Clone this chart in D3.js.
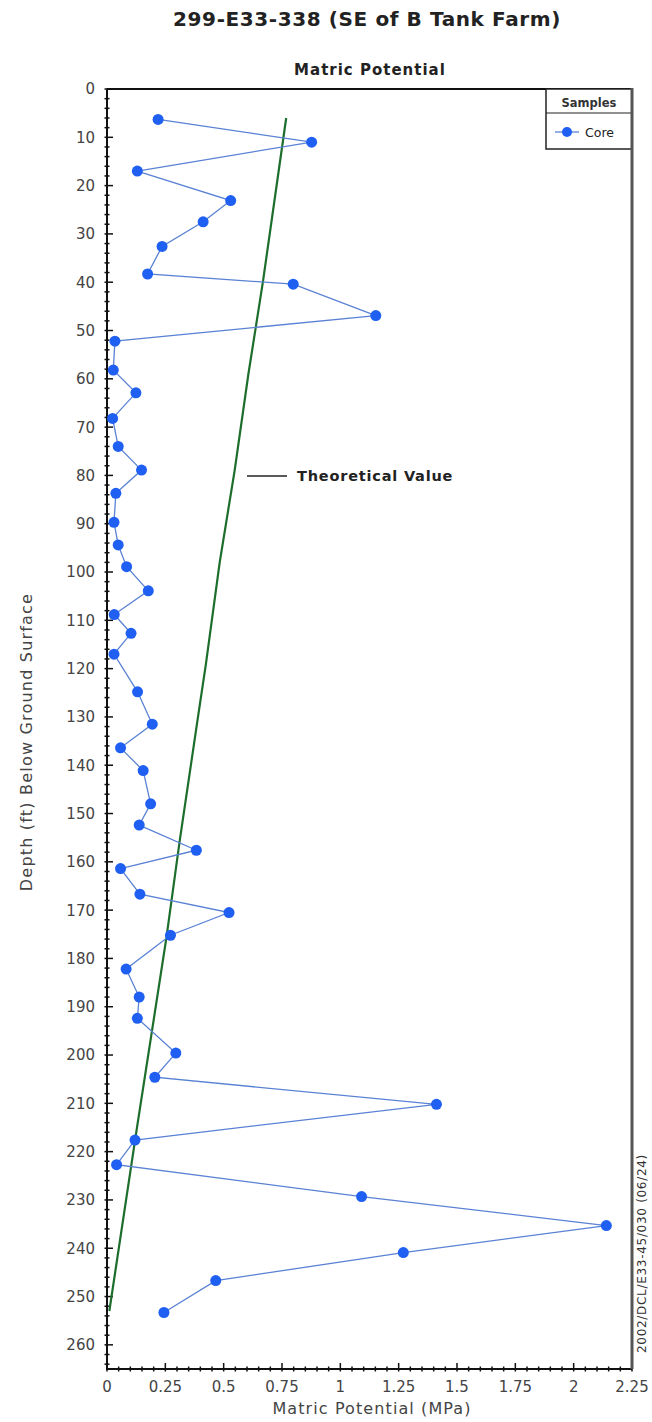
<!DOCTYPE html>
<html>
<head>
<meta charset="utf-8">
<script src="https://cdn.jsdelivr.net/npm/d3@7"></script>
<style>
  html, body { margin: 0; padding: 0; background: #fff; }
  svg { display: block; }
  text { font-family: "DejaVu Sans", Lato, sans-serif; }
</style>
</head>
<body>
<svg id="chart" width="652" height="1422"></svg>
<script>
// ---- data ----
const coreDepth = [6.3, 11.0, 17.0, 23.1, 27.5, 32.6, 38.3, 40.4, 46.9, 52.2,
  58.2, 62.9, 68.2, 74.0, 78.9, 83.7, 89.7, 94.4, 98.9, 103.9,
  108.8, 112.7, 117.0, 124.8, 131.5, 136.4, 141.1, 148.0, 152.4, 157.6,
  161.4, 166.7, 170.5, 175.2, 182.2, 188.0, 192.4, 199.6, 204.6, 210.2,
  217.6, 222.7, 229.3, 235.3, 240.9, 246.7, 253.3];
const coreMPa = [0.219, 0.877, 0.130, 0.530, 0.412, 0.236, 0.174, 0.798, 1.152, 0.034,
  0.027, 0.124, 0.024, 0.048, 0.148, 0.038, 0.030, 0.048, 0.084, 0.177,
  0.031, 0.103, 0.030, 0.131, 0.194, 0.058, 0.155, 0.187, 0.138, 0.383,
  0.058, 0.141, 0.523, 0.272, 0.082, 0.138, 0.130, 0.295, 0.205, 1.412,
  0.120, 0.041, 1.091, 2.140, 1.270, 0.466, 0.244];
const theoDepth = [6, 40, 59, 79, 98, 119, 130, 155.5, 175.6, 215.5, 253];
const theoMPa = [0.768, 0.668, 0.606, 0.547, 0.483, 0.424, 0.39, 0.312, 0.255, 0.127, 0.01];
const yTickLabels = ["0","10","20","30","40","50","60","70","80","90","100","110","120","130","140","150","160","170","180","190","200","210","220","230","240","250","260"];
const xTickLabels = ["0","0.25","0.5","0.75","1","1.25","1.5","1.75","2","2.25"];
const titleText = "299-E33-338 (SE of B Tank Farm)";
const subtitleText = "Matric Potential";
const xTitle = "Matric Potential (MPa)";
const yTitle = "Depth (ft) Below Ground Surface";
const legendTitle = "Samples";
const seriesName = "Core";
const theoLabel = "Theoretical Value";
const docId = "2002/DCL/E33-45/030 (06/24)";

// ---- layout ----
const svg = d3.select("#chart");
const L = 107, R = 632, T = 89, B = 1369;
const x = d3.scaleLinear().domain([0, 2.25]).range([L, R]);
const y = d3.scaleLinear().domain([0, 265]).range([T, B]);

// titles
svg.append("text").attr("x", 367).attr("y", 26).attr("text-anchor", "middle")
  .attr("font-size", 20).attr("font-weight", "bold").attr("letter-spacing", 0.6)
  .attr("fill", "#222").text(titleText);
svg.append("text").attr("x", 370).attr("y", 75).attr("text-anchor", "middle")
  .attr("font-size", 15).attr("font-weight", "bold").attr("letter-spacing", 1)
  .attr("fill", "#222").text(subtitleText);

// frame
svg.append("line").attr("x1", L).attr("x2", R).attr("y1", T).attr("y2", T)
  .attr("stroke", "#111").attr("stroke-width", 2);
svg.append("line").attr("x1", L).attr("x2", L).attr("y1", T).attr("y2", B + 1)
  .attr("stroke", "#111").attr("stroke-width", 2);
svg.append("line").attr("x1", L - 1).attr("x2", R).attr("y1", B).attr("y2", B)
  .attr("stroke", "#111").attr("stroke-width", 2);

// y ticks
const yMinor = d3.range(0, 265.1, 2);
svg.append("g").selectAll("line").data(yMinor).join("line")
  .attr("x1", L - 2.5).attr("x2", d => (d % 10 === 0 ? L + 6 : L + 2.5))
  .attr("y1", d => y(d)).attr("y2", d => y(d))
  .attr("stroke", "#111").attr("stroke-width", 1.5);
svg.append("g").selectAll("text").data(yTickLabels).join("text")
  .attr("x", L - 12).attr("y", d => y(+d)).attr("dy", "0.36em")
  .attr("text-anchor", "end").attr("font-size", 15).attr("fill", "#444").text(d => d);

// x ticks
const xMinor = d3.range(0, 2.2501, 0.05);
svg.append("g").selectAll("line").data(xMinor).join("line")
  .attr("x1", d => x(d)).attr("x2", d => x(d))
  .attr("y1", B + 2.5).attr("y2", d => (Math.abs(d / 0.25 - Math.round(d / 0.25)) < 1e-6 ? B - 6 : B - 2.5))
  .attr("stroke", "#111").attr("stroke-width", 1.5);
svg.append("g").selectAll("text").data(xTickLabels).join("text")
  .attr("x", d => x(+d)).attr("y", B + 23)
  .attr("text-anchor", "middle").attr("font-size", 15).attr("fill", "#444").text(d => d);

// axis titles
svg.append("text").attr("x", 372).attr("y", 1414).attr("text-anchor", "middle")
  .attr("font-size", 16).attr("letter-spacing", 1.1).attr("fill", "#444").text(xTitle);
svg.append("text").attr("transform", "translate(32,742) rotate(-90)").attr("text-anchor", "middle")
  .attr("font-size", 16).attr("letter-spacing", 1.2).attr("fill", "#444").text(yTitle);

// theoretical line
const theo = theoDepth.map((d, i) => [theoMPa[i], d]);
svg.append("path").datum(theo)
  .attr("d", d3.line().x(d => x(d[0])).y(d => y(d[1])))
  .attr("fill", "none").attr("stroke", "#1d6e2c").attr("stroke-width", 2.2);

// core series
const core = coreDepth.map((d, i) => [coreMPa[i], d]);
svg.append("path").datum(core)
  .attr("d", d3.line().x(d => x(d[0])).y(d => y(d[1])))
  .attr("fill", "none").attr("stroke", "#5a82d4").attr("stroke-width", 1.3);
svg.append("g").selectAll("circle").data(core).join("circle")
  .attr("cx", d => x(d[0])).attr("cy", d => y(d[1])).attr("r", 5.5)
  .attr("fill", "#1f5ff2");

// theoretical label
svg.append("line").attr("x1", 247).attr("x2", 287).attr("y1", 476).attr("y2", 476)
  .attr("stroke", "#222").attr("stroke-width", 1.5);
svg.append("text").attr("x", 297).attr("y", 481).attr("font-size", 14.5).attr("font-weight", "bold")
  .attr("letter-spacing", 0.8).attr("fill", "#222").text(theoLabel);

// legend
const lg = svg.append("g");
lg.append("rect").attr("x", 546).attr("y", T).attr("width", R - 546).attr("height", 149 - T)
  .attr("fill", "#fff").attr("stroke", "#222").attr("stroke-width", 1.5);
lg.append("line").attr("x1", 546).attr("x2", R).attr("y1", 113).attr("y2", 113)
  .attr("stroke", "#222").attr("stroke-width", 1.2);
lg.append("text").attr("x", 589).attr("y", 107).attr("text-anchor", "middle")
  .attr("font-size", 11.5).attr("font-weight", "bold").attr("fill", "#333").text(legendTitle);
lg.append("line").attr("x1", 555).attr("x2", 579).attr("y1", 132).attr("y2", 132)
  .attr("stroke", "#5a82d4").attr("stroke-width", 1.3);
lg.append("circle").attr("cx", 567).attr("cy", 132).attr("r", 5).attr("fill", "#1f5ff2");
lg.append("text").attr("x", 585).attr("y", 136.5).attr("font-size", 12.5).attr("fill", "#222").text(seriesName);

// right border (drawn over legend)
svg.append("line").attr("x1", R).attr("x2", R).attr("y1", T - 1).attr("y2", B)
  .attr("stroke", "#555").attr("stroke-width", 3);

// document id
svg.append("text").attr("transform", "translate(646,1353) rotate(-90)")
  .attr("font-size", 12).attr("letter-spacing", 0.7).attr("fill", "#333").text(docId);
</script>
</body>
</html>
